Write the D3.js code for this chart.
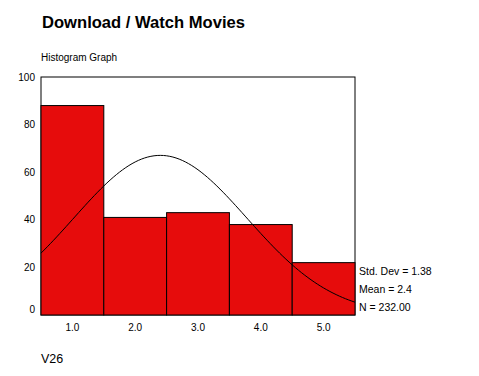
<!DOCTYPE html>
<html>
<head>
<meta charset="utf-8">
<script src="https://cdn.jsdelivr.net/npm/d3@7"></script>
<style>
  body { margin: 0; background: #fff; }
  text { font-family: "Liberation Sans", Arial, sans-serif; fill: #000; }
</style>
</head>
<body>
<div id="chart"></div>
<script>
// Dữ liệu histogram
const categories = [1, 2, 3, 4, 5];
const counts = [88, 41, 43, 38, 22];
const yTicks = [0, 20, 40, 60, 80, 100];
const xTickLabels = ["1.0", "2.0", "3.0", "4.0", "5.0"];
const stats = { sd: 1.38, mean: 2.4, n: 232 };
const statLabels = ["Std. Dev = 1.38", "Mean = 2.4", "N = 232.00"];

const W = 479, H = 376;
const margin = { top: 77, right: 124, bottom: 61, left: 41 },
      width = W - margin.left - margin.right,
      height = H - margin.top - margin.bottom;

const root = d3.select("#chart")
  .append("svg")
    .attr("width", W)
    .attr("height", H);

// Tiêu đề
root.append("text")
  .attr("x", 42).attr("y", 28)
  .attr("textLength", 203)
  .attr("lengthAdjust", "spacingAndGlyphs")
  .style("font-size", "16.5px")
  .style("font-weight", "bold")
  .text("Download / Watch Movies");

root.append("text")
  .attr("x", 41).attr("y", 61)
  .style("font-size", "10px")
  .text("Histogram Graph");

const svg = root.append("g")
  .attr("transform", `translate(${margin.left},${margin.top})`);

const x = d3.scaleLinear().domain([0.5, 5.5]).range([0, width]);
const y = d3.scaleLinear().domain([0, 100]).range([height, 0]);

// Khung
svg.append("rect")
  .attr("width", width).attr("height", height)
  .attr("fill", "#fff").attr("stroke", "#000");

// Cột
svg.selectAll("rect.bar")
  .data(categories)
  .enter()
  .append("rect")
    .attr("class", "bar")
    .attr("x", d => x(d - 0.5))
    .attr("y", (d, i) => y(counts[i]))
    .attr("width", x(1.5) - x(0.5))
    .attr("height", (d, i) => height - y(counts[i]))
    .attr("fill", "#e60c0c")
    .attr("stroke", "#000")
    .attr("stroke-width", 1);

// Đường cong chuẩn
const pdf = v => stats.n / (stats.sd * Math.sqrt(2 * Math.PI)) *
  Math.exp(-0.5 * Math.pow((v - stats.mean) / stats.sd, 2));
const curveX = d3.range(0.5, 5.5001, 0.05);
svg.append("path")
  .datum(curveX)
  .attr("fill", "none")
  .attr("stroke", "#000")
  .attr("stroke-width", 1)
  .attr("d", d3.line().x(d => x(d)).y(d => y(pdf(d))));

// Trục Y
svg.selectAll("text.ylab")
  .data(yTicks)
  .enter()
  .append("text")
    .attr("x", -6)
    .attr("y", d => d === 0 ? y(d) - 6 : y(d))
    .attr("dy", "0.35em")
    .attr("text-anchor", "end")
    .style("font-size", "10px")
    .text(d => d);

// Trục X
svg.selectAll("text.xlab")
  .data(categories)
  .enter()
  .append("text")
    .attr("x", d => x(d))
    .attr("y", height + 12)
    .attr("dy", "0.35em")
    .attr("text-anchor", "middle")
    .style("font-size", "10px")
    .text((d, i) => xTickLabels[i]);

// Thống kê
root.selectAll("text.stat")
  .data(statLabels)
  .enter()
  .append("text")
    .attr("x", 359)
    .attr("y", (d, i) => 271 + i * 18)
    .attr("dy", "0.35em")
    .style("font-size", "10.5px")
    .text(d => d);

root.append("text")
  .attr("x", 41).attr("y", 359)
  .attr("dy", "0.35em")
  .style("font-size", "12.5px")
  .text("V26");
</script>
</body>
</html>
